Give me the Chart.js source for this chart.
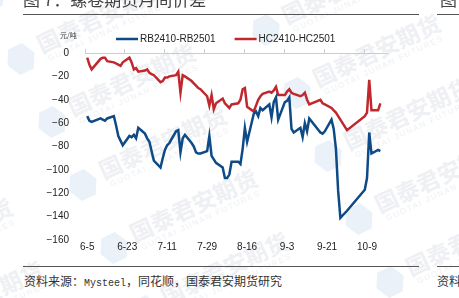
<!DOCTYPE html>
<html>
<head>
<meta charset="utf-8">
<script src="https://cdn.jsdelivr.net/npm/chart.js@4.4.0/dist/chart.umd.min.js"></script>
<style>
  body { margin: 0; width: 459px; height: 298px; overflow: hidden; background: #fff; position: relative;
         font-family: "Liberation Sans", Arial, sans-serif; }
  #wm { position: absolute; left: 0; top: 0; width: 459px; height: 298px; overflow: hidden; z-index: 0; }
  .mark { position: absolute; width: 30px; height: 30px; transform-origin: 15px 15px; transform: rotate(-25deg); }
  .mark .logo { position: absolute; left: 0; top: 0; width: 30px; height: 30px; background: #ebf1f8;
                clip-path: polygon(25% 3%, 75% 3%, 100% 50%, 75% 97%, 25% 97%, 0 50%); }
  .mark .cn { position: absolute; left: 36px; top: -8px; white-space: nowrap; font: bold 23px "Noto Sans CJK SC"; color: #eef0f3; }
  .mark .en { position: absolute; left: 40px; top: 22px; white-space: nowrap; font: 8px "Liberation Sans"; letter-spacing: 1.6px; color: #eff1f4; }
  .rule { position: absolute; height: 1.4px; background: #555; z-index: 2; }
  .txt { position: absolute; white-space: nowrap; z-index: 2; color: #333; }
  #title { left: 23px; top: -10px; font: 17px/18px "Noto Sans CJK SC"; color: #444; }
  #title2 { left: 440px; top: -10px; font: 17px/18px "Noto Sans CJK SC"; color: #444; }
  #unit { left: 60px; top: 31px; font: 7px/9px "Noto Sans CJK SC"; color: #444; }
  #src { left: 24px; top: 273px; font: 12px/16px "Noto Sans CJK SC"; }
  #src2 { left: 437px; top: 273px; font: 12px/16px "Noto Sans CJK SC"; }
  #src .lat { font: 10px "Liberation Mono", monospace; }
  #chart { position: absolute; left: 0; top: 0; z-index: 1; }
</style>
</head>
<body>
<div id="wm"></div>
<div class="txt" id="title">图 7：螺卷期货月间价差</div>
<div class="txt" id="title2">图</div>
<div class="rule" style="left:23px;width:396px;top:13.5px"></div>
<div class="rule" style="left:437px;width:22px;top:13.5px"></div>
<div class="txt" id="unit">元/吨</div>
<canvas id="chart" width="459" height="258"></canvas>
<div class="rule" style="left:23px;width:396px;top:265.5px"></div>
<div class="rule" style="left:437px;width:22px;top:265.5px"></div>
<div class="txt" id="src">资料来源：<span class="lat">Mysteel</span>，同花顺，国泰君安期货研究</div>
<div class="txt" id="src2">资料</div>

<script>
// trading days (2024)
var dates = ['6-5','6-6','6-7','6-11','6-12','6-13','6-14','6-17','6-18','6-19','6-20','6-21',
  '6-24','6-25','6-26','6-27','6-28','7-1','7-2','7-3','7-4','7-5','7-8','7-9','7-10','7-11','7-12',
  '7-15','7-16','7-17','7-18','7-19','7-22','7-23','7-24','7-25','7-26','7-29','7-30','7-31',
  '8-1','8-2','8-5','8-6','8-7','8-8','8-9','8-12','8-13','8-14','8-15','8-16','8-19','8-20','8-21','8-22','8-23',
  '8-26','8-27','8-28','8-29','8-30','9-2','9-3','9-4','9-5','9-6','9-9','9-10','9-11','9-12','9-13',
  '9-18','9-19','9-20','9-23','9-24','9-25','9-26','9-27','9-30','10-8','10-9','10-10','10-11','10-14','10-15'];

// RB2410-RB2501
var rb = [-54, -58, -59, -56, -57, -58, -56, -54, -62, -71, -75, -79,
  -71, -72, -70, -73, -64, -69, -73, -76, -84, -92, -98, -90, -83, -79, -77,
  -67, -66, -85, -73, -70, -77, -80, -85, -86, -86, -84, -71, -88,
  -91, -94, -98, -107, -107, -104, -93, -93, -95, -82, -64, -76, -52, -50, -54, -47, -49,
  -44, -55, -42, -38, -57, -42, -41, -38, -65, -68, -64, -72, -60, -67, -56,
  -68, -69, -67, -57, -65, -82, -118, -141, -135, -117, -107, -68, -86, -83, -84];

// HC2410-HC2501
var hc = [-4, -10, -14, -5, -4, -4, -7, -8, -9, -10, -11, -8,
  -4, -8, -14, -13, -16, -15, -14, -17, -18, -19, -25, -24, -21, -21, -20,
  -19, -16, -34, -19, -20, -24, -26, -28, -30, -31, -37, -45, -36,
  -48, -43, -39, -43, -45, -47, -44, -43, -40, -31, -30, -46, -50, -45, -40, -37, -35,
  -33, -34, -32, -29, -36, -36, -33, -31, -34, -35, -37, -36, -34, -40, -44,
  -40, -43, -44, -47, -49, -51, -54, -57, -66, -54, -51, -23, -49, -49, -43];

var tickLabels = ['6-5','6-23','7-11','7-29','8-16','9-3','9-21','10-9'];
var yTicks = [0, -20, -40, -60, -80, -100, -120, -140, -160];

function dayOf(md) {
  var p = md.split('-').map(Number);
  return (Date.UTC(2024, p[0] - 1, p[1]) - Date.UTC(2024, 5, 5)) / 864e5;
}
var tickValues = tickLabels.map(dayOf);
var labelAt = {};
tickLabels.forEach(function (l, i) { labelAt[tickValues[i]] = l; });

// watermark pattern
var wm = document.getElementById('wm');
for (var m = -1; m <= 1; m++) {
  for (var n = -2; n <= 3; n++) {
    var cx = 52 + 31 * n + 245 * m, cy = 122 + 63 * n - 29 * m;
    var el = document.createElement('div');
    el.className = 'mark';
    el.style.left = (cx - 15) + 'px';
    el.style.top = (cy - 15) + 'px';
    el.innerHTML = '<div class="logo"></div><div class="cn">国泰君安期货</div><div class="en">GUOTAI JUNAN FUTURES</div>';
    wm.appendChild(el);
  }
}

var topLegend = {
  id: 'topLegend',
  afterDraw: function (chart) {
    var ctx = chart.ctx;
    var x = 116, y = 39;
    ctx.save();
    ctx.font = '10px "Liberation Sans", Arial';
    ctx.textBaseline = 'middle';
    chart.data.datasets.forEach(function (ds) {
      ctx.strokeStyle = ds.borderColor;
      ctx.lineWidth = 2.5;
      ctx.beginPath();
      ctx.moveTo(x, y);
      ctx.lineTo(x + 22, y);
      ctx.stroke();
      ctx.fillStyle = '#222';
      ctx.fillText(ds.label, x + 24, y);
      x += 24 + ctx.measureText(ds.label).width + 19;
    });
    ctx.restore();
  }
};

var ctx = document.getElementById('chart');
var myChart = new Chart(ctx, {
  type: 'line',
  data: {
    datasets: [{
      label: 'RB2410-RB2501',
      data: dates.map(function (d, i) { return { x: dayOf(d), y: rb[i] }; }),
      borderColor: '#0d4a86',
      borderWidth: 2.5,
      pointRadius: 0,
      tension: 0
    }, {
      label: 'HC2410-HC2501',
      data: dates.map(function (d, i) { return { x: dayOf(d), y: hc[i] }; }),
      borderColor: '#c0282d',
      borderWidth: 2.5,
      pointRadius: 0,
      tension: 0
    }]
  },
  options: {
    responsive: false,
    animation: false,
    devicePixelRatio: 1,
    layout: { padding: { left: 0, right: 72, top: 49, bottom: 0 } },
    plugins: { legend: { display: false }, tooltip: { enabled: false } },
    scales: {
      x: {
        type: 'linear',
        position: 'bottom',
        min: -1,
        max: 135,
        grid: { display: false, drawTicks: false },
        border: { display: false },
        ticks: {
          autoSkip: false,
          maxRotation: 0,
          padding: 1,
          color: '#222',
          font: { size: 10, family: '"Liberation Sans", Arial' },
          callback: function (v) { return labelAt[v]; }
        },
        afterBuildTicks: function (s) { s.ticks = tickValues.map(function (v) { return { value: v }; }); },
        afterFit: function (s) { s.height = 18; }
      },
      x2: {
        type: 'linear',
        position: 'top',
        min: -1,
        max: 135,
        grid: { display: true, drawOnChartArea: false, drawTicks: true, tickLength: 4, color: '#cccccc' },
        border: { display: true, color: '#cccccc' },
        ticks: { display: false },
        afterBuildTicks: function (s) { s.ticks = tickValues.map(function (v) { return { value: v - 1 }; }); },
        afterFit: function (s) { s.height = 4; }
      },
      y: {
        min: -160,
        max: 0,
        grid: { display: false },
        border: { display: false },
        ticks: {
          padding: 8,
          color: '#222',
          font: { size: 10, family: '"Liberation Sans", Arial' },
          callback: function (v) { return v < 0 ? '\u2212' + Math.abs(v) : String(v); }
        },
        afterBuildTicks: function (s) { s.ticks = yTicks.map(function (v) { return { value: v }; }); },
        afterFit: function (s) { s.width = 85; }
      }
    }
  },
  plugins: [topLegend]
});
</script>
</body>
</html>
